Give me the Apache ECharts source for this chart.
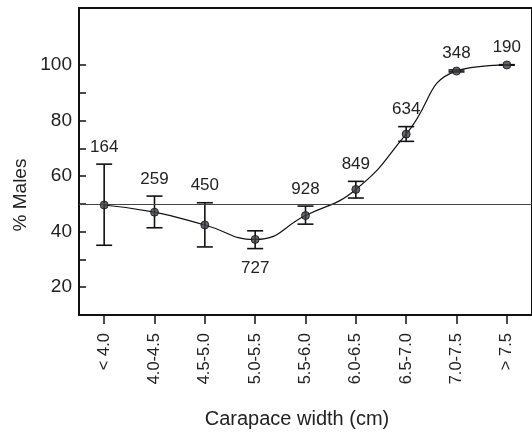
<!DOCTYPE html>
<html><head><meta charset="utf-8">
<script src="https://cdn.jsdelivr.net/npm/echarts@6/dist/echarts.min.js"></script>
<style>html,body{margin:0;padding:0;background:#fff}#c{width:532px;height:432px}</style>
</head><body><div id="c"></div>
<script>
const categories = ['< 4.0','4.0-4.5','4.5-5.0','5.0-5.5','5.5-6.0','6.0-6.5','6.5-7.0','7.0-7.5','> 7.5'];
const pctMales = [49.6, 47.0, 42.4, 37.2, 45.8, 55.2, 75.1, 97.8, 100.0];
const errLow  = [35.1, 41.4, 34.5, 33.9, 42.7, 52.1, 72.5, 97.5, 99.9];
const errHigh = [64.3, 52.8, 50.4, 40.3, 49.2, 58.1, 77.8, 98.2, 100.1];
const sampleSizes = [164, 259, 450, 727, 928, 849, 634, 348, 190];
const labelSide = ['above','above','above','below','above','above','above','above','above'];
const yTickValues = [20,30,40,50,60,70,80,90,100];
const yLabelValues = [20,40,60,80,100];
const referenceLevel = 50;

const FONT = 'Liberation Sans, Arial, sans-serif';
const chart = echarts.init(document.getElementById('c'), null, {renderer:'canvas'});
const errData = categories.map((c,i)=>[i, errLow[i], errHigh[i], sampleSizes[i], labelSide[i]==='below'?1:0]);

chart.setOption({
  animation:false,
  backgroundColor:'#fff',
  grid:{left:79, top:8, right:-6, bottom:117, show:true, borderColor:'#111', borderWidth:2, backgroundColor:'transparent'},
  xAxis:{
    type:'category', data:categories, boundaryGap:true,
    axisLine:{show:true, lineStyle:{color:'#111', width:2}},
    axisTick:{show:true, alignWithLabel:true, length:9, inside:false, lineStyle:{color:'#111', width:1.5}},
    axisLabel:{rotate:90, margin:18, color:'#222', fontSize:16.5, fontFamily:FONT, interval:0},
    splitLine:{show:false}
  },
  yAxis:{
    type:'value', min:10, max:120.5,
    axisLine:{show:true, lineStyle:{color:'#111', width:2}},
    axisTick:{show:true, inside:true, length:7, customValues:yTickValues, lineStyle:{color:'#111', width:1.5}},
    axisLabel:{margin:7, color:'#222', fontSize:19, fontFamily:FONT, customValues:yLabelValues},
    splitLine:{show:false}
  },
  graphic:[
    {type:'text', x:21, y:195, rotation:Math.PI/2, style:{text:'% Males', fill:'#222', font:'19px '+FONT, textAlign:'center', textVerticalAlign:'middle'}},
    {type:'text', x:297, y:419, style:{text:'Carapace width (cm)', fill:'#222', font:'20px '+FONT, textAlign:'center', textVerticalAlign:'middle'}}
  ],
  series:[
    {
      type:'line', data:pctMales, smooth:0.5, z:2,
      symbol:'none',
      lineStyle:{color:'#111', width:1.2},
      markLine:{silent:true, symbol:'none', label:{show:false}, lineStyle:{color:'#444', width:1.2, type:'solid'}, data:[{yAxis:referenceLevel}]}
    },
    {
      type:'custom', data:errData, z:3,
      renderItem:function(params, api){
        const i = api.value(0);
        const lo = api.coord([i, api.value(1)]);
        const hi = api.coord([i, api.value(2)]);
        const half = 8;
        const below = api.value(4) === 1;
        const st = {stroke:'#111', lineWidth:1.6};
        return {type:'group', children:[
          {type:'line', shape:{x1:hi[0], y1:hi[1], x2:lo[0], y2:lo[1]}, style:st},
          {type:'line', shape:{x1:hi[0]-half, y1:hi[1], x2:hi[0]+half, y2:hi[1]}, style:st},
          {type:'line', shape:{x1:lo[0]-half, y1:lo[1], x2:lo[0]+half, y2:lo[1]}, style:st},
          {type:'text', x:hi[0], y: below ? lo[1]+20 : hi[1]-17,
           style:{text:String(api.value(3)), fill:'#222', font:'17px '+FONT, textAlign:'center', textVerticalAlign:'middle'}}
        ]};
      }
    },
    {
      type:'scatter', data:pctMales, z:4, symbol:'circle', symbolSize:8,
      itemStyle:{color:'#3c4146', borderColor:'#111', borderWidth:1}
    }
  ]
});
</script></body></html>
